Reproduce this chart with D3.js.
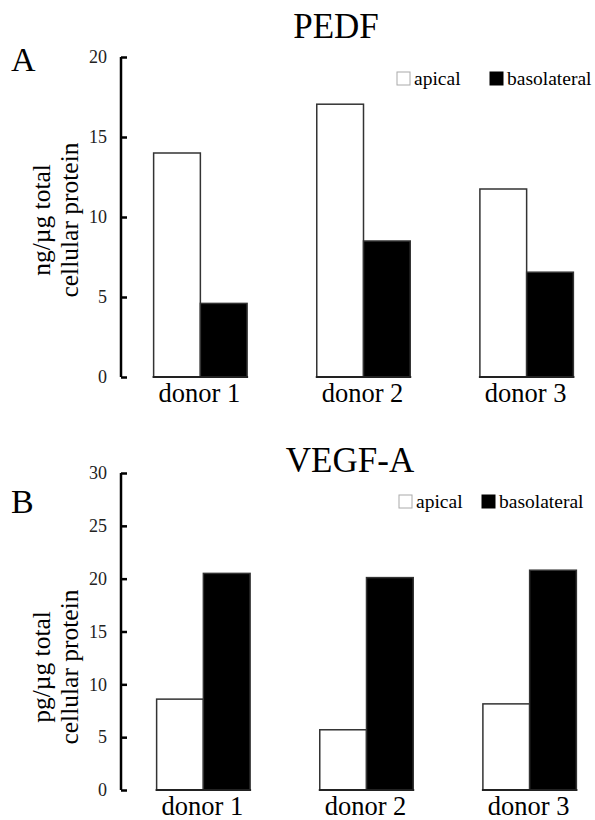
<!DOCTYPE html>
<html>
<head>
<meta charset="utf-8">
<script src="https://cdn.jsdelivr.net/npm/d3@7"></script>
<style>
  body { margin: 0; background: #fff; }
  text { font-family: "Liberation Serif", "Times New Roman", Times, serif !important; }
</style>
</head>
<body>
<svg width="595" height="820"></svg>
<script>
const svg = d3.select("svg");

// data
const donors = ["donor 1", "donor 2", "donor 3"];
const series = ["apical", "basolateral"];
const pedfApical = [14.0, 17.05, 11.75];
const pedfBasolateral = [4.6, 8.5, 6.55];
const vegfApical = [8.6, 5.7, 8.15];
const vegfBasolateral = [20.5, 20.1, 20.8];
const pedfTicks = [0, 5, 10, 15, 20];
const vegfTicks = [0, 5, 10, 15, 20, 25, 30];

const colors = d3.scaleOrdinal().domain(series).range(["#fff", "#000"]);

function drawPanel(p) {
  const g = svg.append("g");

  const y = d3.scaleLinear().domain(p.yDomain).range([p.y0, p.y1]);
  const x = d3.scaleBand().domain(donors).range(p.xRange)
    .paddingInner(0.427).paddingOuter(0.2);
  const xs = d3.scaleBand().domain(series).range([0, x.bandwidth()]);

  // panel letter + title
  g.append("text").attr("x", 11).attr("y", p.letterY)
    .style("font-size", "34px").text(p.letter);
  g.append("text").attr("x", p.titleX).attr("y", p.titleY)
    .attr("text-anchor", "middle").style("font-size", "35px").text(p.title);

  // y axis, ticks pointing inward
  const axis = g.append("g").attr("transform", `translate(121,0)`)
    .call(d3.axisLeft(y).tickValues(p.ticks).tickSize(-6).tickPadding(14));
  axis.select(".domain").attr("stroke-width", 2.5).attr("d", `M0,${p.y1}V${p.y0}`);
  axis.selectAll(".tick line").attr("stroke-width", 2.5);
  axis.selectAll(".tick text").style("font-size", "18px").attr("fill", "#222");

  // y label
  const lab = g.append("text").attr("transform", `translate(50,${p.labelY}) rotate(-90)`)
    .attr("text-anchor", "middle").style("font-size", "25.5px");
  lab.append("tspan").attr("x", 0).attr("dy", 0).text(p.unit + "/\u00b5g total");
  lab.append("tspan").attr("x", 0).attr("dy", 28).text("cellular protein");

  // bars
  const rows = donors.map((d, i) => ({ donor: d, values: [
    { key: "apical", v: p.apical[i] }, { key: "basolateral", v: p.basolateral[i] }] }));
  const grp = g.selectAll(".grp").data(rows).join("g")
    .attr("transform", d => `translate(${x(d.donor)},0)`);
  grp.selectAll("rect").data(d => d.values).join("rect")
    .attr("x", d => xs(d.key)).attr("width", xs.bandwidth())
    .attr("y", d => y(d.v)).attr("height", d => y(0) - y(d.v))
    .attr("fill", d => colors(d.key)).attr("stroke", "#333").attr("stroke-width", 1.5);
  grp.append("line").attr("x1", -1).attr("x2", x.bandwidth() + 1)
    .attr("y1", y(0)).attr("y2", y(0)).attr("stroke", "#222").attr("stroke-width", 2);
  grp.append("text").attr("x", x.bandwidth() / 2 - 1).attr("y", p.catY)
    .attr("text-anchor", "middle").style("font-size", "26.5px").text(d => d.donor);

  // legend
  const leg = g.selectAll(".leg").data(series).join("g")
    .attr("transform", (d, i) => `translate(${p.legX[i]},${p.legY})`);
  leg.append("rect").attr("x", 0).attr("y", -13).attr("width", 13).attr("height", 13)
    .attr("fill", d => colors(d)).attr("stroke", d => d === "apical" ? "#aaa" : "#000");
  leg.append("text").attr("x", 17).attr("y", 0).style("font-size", "19.5px")
    .text(d => d);
}

drawPanel({
  letter: "A", letterY: 71, title: "PEDF", titleX: 336, titleY: 38,
  yDomain: [0, 20], y0: 377, y1: 57, ticks: pedfTicks, unit: "ng", labelY: 220,
  xRange: [121, 606], apical: pedfApical, basolateral: pedfBasolateral,
  catY: 402, legX: [397, 490], legY: 85
});

drawPanel({
  letter: "B", letterY: 513, title: "VEGF-A", titleX: 350, titleY: 472,
  yDomain: [0, 30], y0: 790, y1: 473, ticks: vegfTicks, unit: "pg", labelY: 667,
  xRange: [124, 609], apical: vegfApical, basolateral: vegfBasolateral,
  catY: 815, legX: [399, 482], legY: 508
});
</script>
</body>
</html>
